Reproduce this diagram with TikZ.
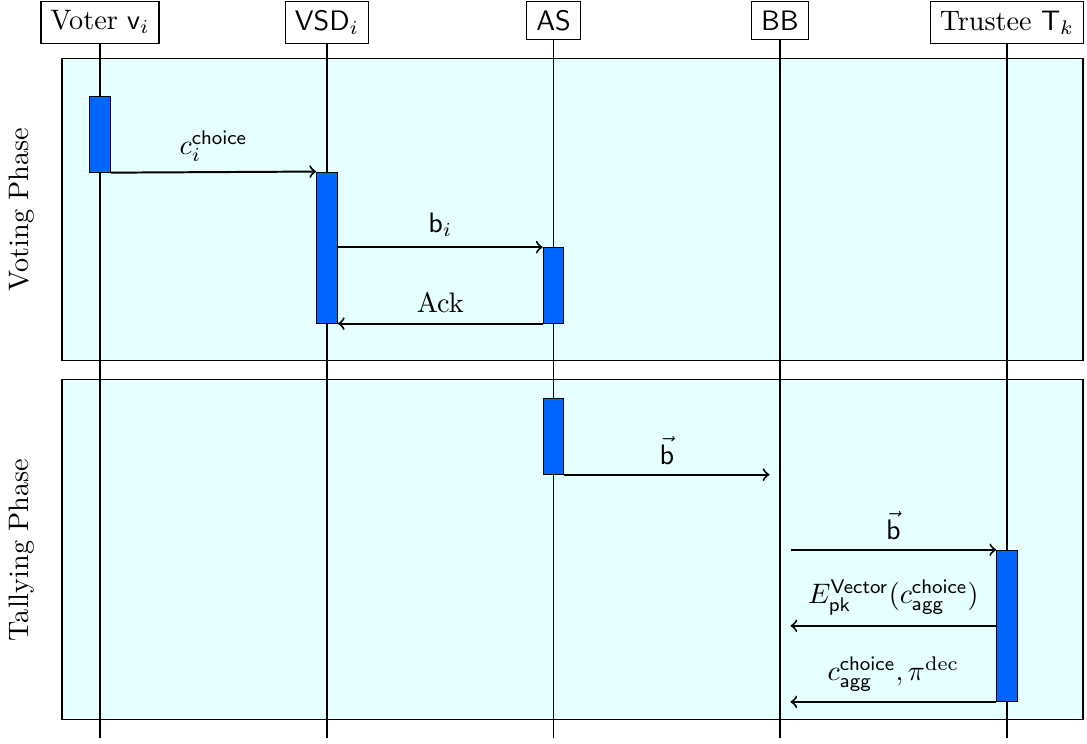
\documentclass[tikz,border=0pt]{standalone}
\usepackage{amsmath}
\definecolor{actblue}{RGB}{0,102,255}
\definecolor{phasefill}{RGB}{230,255,255}
\begin{document}
\begin{tikzpicture}[x=0.355pt,y=-0.355pt,
  head/.style={draw, fill=white, anchor=north, inner sep=3.33pt},
  phasebox/.style={draw, fill=phasefill},
  act/.style={draw, fill=actblue, inner sep=0pt, minimum width=7.3pt},
  msg/.style={->, line width=0.7pt},
  lifeline/.style={thin},
  phaselabel/.style={rotate=90}]
\useasboundingbox (0,0) rectangle (1087,743);
% phase boxes
\path[phasebox] (62,58.7) rectangle (1083,360.5);
\path[phasebox] (62,379.5) rectangle (1083,719.5);
\node[phaselabel] (vlab) at (22,209.5) {Voting Phase};
\node[phaselabel] (tlab) at (22,550) {Tallying Phase};
% heads
\node[head] (voter) at (100,0.5) {Voter $\mathsf{v}_i$};
\node[head] (vsd) at (327,0.5) {$\mathsf{VSD}_i$};
\node[head] (as) at (553.5,0.5) {$\mathsf{AS}$};
\node[head] (bb) at (780,0.5) {$\mathsf{BB}$};
\node[head] (tr) at (1007,0.5) {Trustee $\mathsf{T}_k$};
\coordinate (bot) at (0,738);
\foreach \n in {voter,vsd,as,bb,tr}
  \draw[lifeline] (\n.south) -- (\n.south |- bot);
% activations
\node[act, minimum height=26.75pt] (va) at (100,134.4) {};
\node[act, minimum height=53.6pt] (vsda) at (327,247.6) {};
\node[act, minimum height=26.75pt] (asa) at (553.5,285.4) {};
\node[act, minimum height=26.75pt] (asb) at (553.5,436.4) {};
\node[act, minimum height=53.6pt] (tra) at (1007,625.8) {};
% free ends at BB
\coordinate (bbin) at (769.5,474);
\coordinate (bbout1) at (790.5,550.5);
\coordinate (bbout2) at (790.5,625.8);
\coordinate (bbout3) at (790.5,701);
% messages
\draw[msg] (va.south east) -- node[above] {$c_i^{\mathsf{choice}}$} (vsda.north west);
\draw[msg] (vsda.east |- asa.north) -- node[above] {$\mathsf{b}_i$} (asa.north west);
\draw[msg] (asa.south west) -- node[above] {Ack} (asa.south west -| vsda.east);
\draw[msg] (asb.south east) -- node[above] {$\vec{\mathsf{b}}$} (asb.south east -| bbin);
\draw[msg] (bbout1 |- tra.north) -- node[above] {$\vec{\mathsf{b}}$} (tra.north west);
\draw[msg] (tra.west) -- node[above] {$E_{\mathsf{pk}}^{\mathsf{Vector}}(c_{\mathsf{agg}}^{\mathsf{choice}})$} (tra.west -| bbout2);
\draw[msg] (tra.south west) -- node[above] {$c_{\mathsf{agg}}^{\mathsf{choice}}, \pi^{\mathrm{dec}}$} (tra.south west -| bbout3);
\end{tikzpicture}
\end{document}
